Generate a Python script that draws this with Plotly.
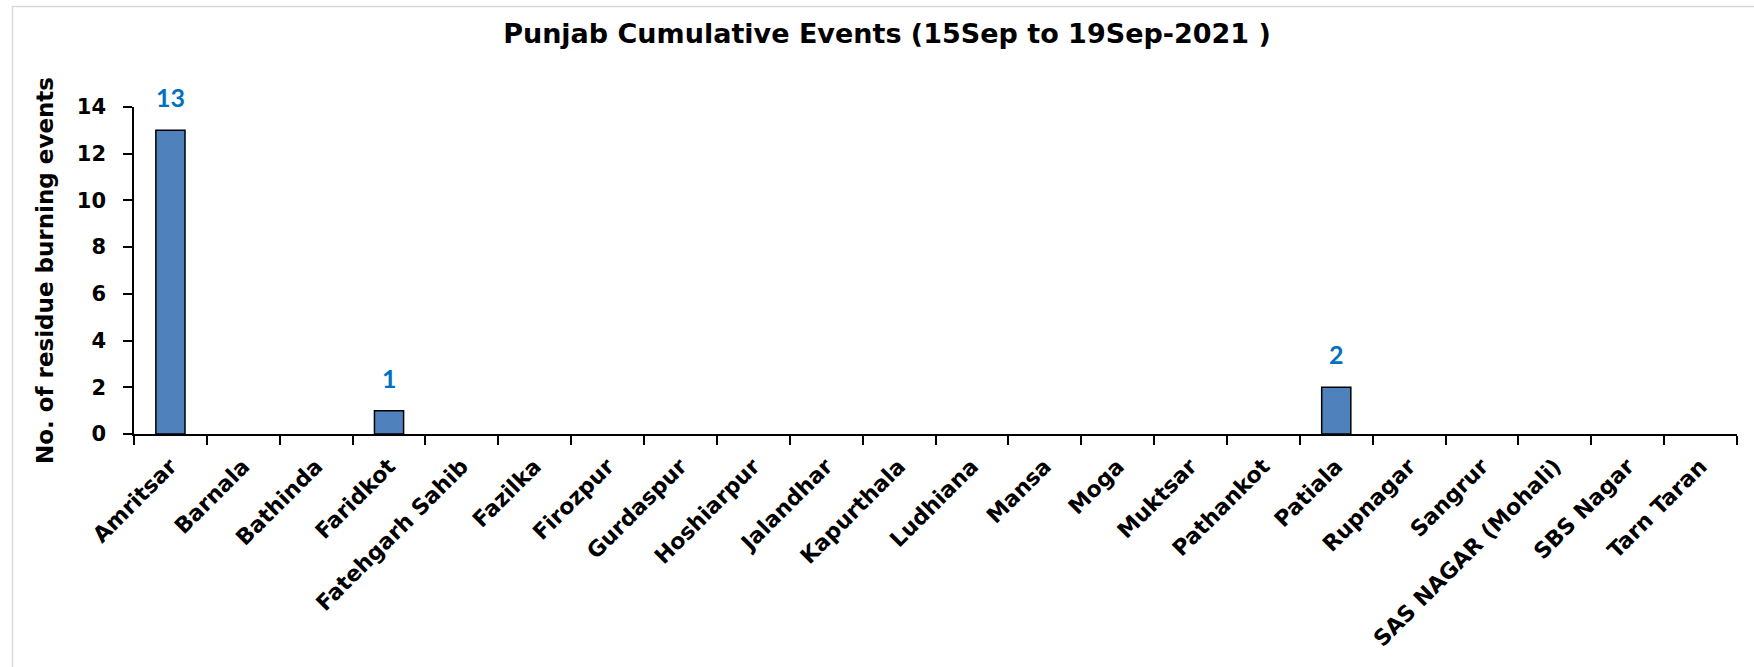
import plotly.graph_objects as go

districts = ["Amritsar", "Barnala", "Bathinda", "Faridkot", "Fatehgarh Sahib", "Fazilka",
             "Firozpur", "Gurdaspur", "Hoshiarpur", "Jalandhar", "Kapurthala", "Ludhiana",
             "Mansa", "Moga", "Muktsar", "Pathankot", "Patiala", "Rupnagar", "Sangrur",
             "SAS NAGAR (Mohali)", "SBS Nagar", "Tarn Taran"]
events = [13, 0, 0, 1, 0, 0, 0, 0, 0, 0, 0, 0, 0, 0, 0, 0, 2, 0, 0, 0, 0, 0]
y_ticks = [0, 2, 4, 6, 8, 10, 12, 14]

title_text = "Punjab Cumulative Events (15Sep to 19Sep-2021 )"
y_title = "No. of residue burning events"

W, H = 1754, 667
L, R, T, B = 134, 17, 107, 233
pw, ph = W - L - R, H - T - B

main_font = "DejaVu Sans"

fig = go.Figure()
fig.add_trace(go.Bar(
    x=districts, y=events,
    marker=dict(color="#4F81BD",
                line=dict(color="black", width=[1.5 if v > 0 else 0 for v in events])),
    width=0.4,
    hoverinfo="x+y",
))

annotations = []
for d, v in zip(districts, events):
    if v > 0:
        annotations.append(dict(
            x=d, y=v, xref="x", yref="y", text=f"<b>{v}</b>", showarrow=False,
            yanchor="bottom", yshift=16,
            font=dict(family="Lato", size=25, color="#0070C0"),
        ))

# outer chart border (light grey)
shapes = [dict(
    type="rect", xref="paper", yref="paper",
    x0=(12.5 - L) / pw, x1=1.2,
    y0=-1.0, y1=(H - B - 6.5) / ph,
    line=dict(color="#D9D9D9", width=1.5), fillcolor="rgba(0,0,0,0)", layer="below",
)]

fig.update_layout(
    width=W, height=H, autosize=False,
    margin=dict(l=L, r=R, t=T, b=B),
    paper_bgcolor="white", plot_bgcolor="white",
    showlegend=False,
    title=dict(text=f"<b>{title_text}</b>", x=887 / W, xanchor="center",
               y=1 - 34 / H, yanchor="middle", yref="container",
               font=dict(family=main_font, size=27, color="black")),
    annotations=annotations,
    shapes=shapes,
    bargap=0.6,
)

fig.update_xaxes(
    type="category", tickangle=-45, tickson="boundaries",
    ticks="outside", ticklen=9, tickwidth=1.5, tickcolor="black",
    showline=True, linecolor="black", linewidth=1.5,
    showgrid=False, zeroline=False,
    tickfont=dict(family=main_font, size=22, color="black", weight="bold"),
    ticklabelstandoff=9,
)
fig.update_yaxes(
    range=[0, 14], tickvals=y_ticks,
    ticks="outside", ticklen=9, tickwidth=1.5, tickcolor="black",
    showline=True, linecolor="black", linewidth=1.5,
    showgrid=False, zeroline=False,
    tickfont=dict(family=main_font, size=21, color="black", weight="bold"),
    ticklabelstandoff=13,
    title=dict(text=f"<b>{y_title}</b>", standoff=17,
               font=dict(family=main_font, size=23, color="black")),
)

fig.write_html("out.html",
               config={"displayModeBar": False},
               post_script="document.body.style.margin='0';document.body.style.overflow='hidden';")
